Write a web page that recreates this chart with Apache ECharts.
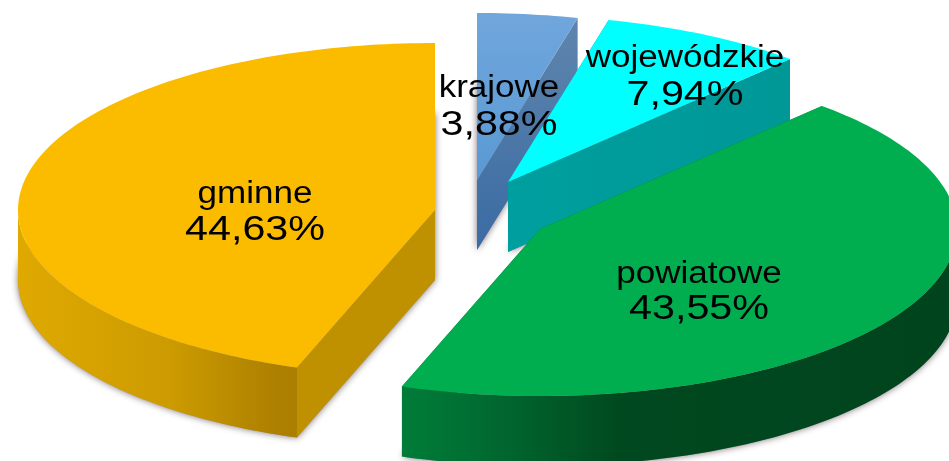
<!DOCTYPE html>
<html>
<head>
<meta charset="utf-8">
<script src="https://cdn.jsdelivr.net/npm/echarts@6/dist/echarts.min.js"></script>
<style>
html, body { margin: 0; padding: 0; background: #fff; }
#chart { width: 949px; height: 461px; }
</style>
</head>
<body>
<div id="chart"></div>
<script>
var categories = ['krajowe', 'wojewódzkie', 'powiatowe', 'gminne'];
var shares = [3.88, 7.94, 43.55, 44.63];

// pie look, all in pixels
var radiusX = 417, radiusY = 167, depth = 70;
var apexes = [[477, 180], [508, 182], [540, 229], [435, 210]];
var labelAt = [[499, 88, 125], [685, 58, 95], [699, 274, 309], [255, 194, 230]];

function grad(stops, vertical) {
	return {
		type: 'linear', x: 0, y: 0, x2: vertical ? 0 : 1, y2: vertical ? 1 : 0,
		colorStops: stops.map(function(s){ return { offset: s[0], color: s[1] }; })
	};
}

var topFill = [
	grad([[0, '#70a6dc'], [1, '#5999d4']], true),
	'#00ffff',
	'#00ae4f',
	'#fbbc00'
];
var edgeFill = [
	grad([[0, '#5f85ad'], [1, '#3a6ba3']], true),
	grad([[0, '#009f9f'], [1, '#009797']], false),
	'#006f33',
	'#bf9000'
];
var rimFill = [
	'#3a6ba3',
	'#009797',
	grad([[0, '#007c38'], [0.12, '#006f33'], [0.27, '#005a28'], [0.4, '#00481f'], [1, '#00441e']], false),
	grad([[0, '#dfa900'], [0.55, '#cc9b00'], [0.92, '#ad8000'], [1, '#ab7e00']], false)
];

function sumBefore(index) {
	var total = 0;
	for (var i = 0; i < index; i++) total += shares[i];
	return total;
}

function pointAt(apex, angle, shift) {
	return [apex[0] + radiusX * Math.sin(angle), apex[1] - radiusY * Math.cos(angle) + shift];
}

function arcPoints(apex, from, to, shift) {
	var pts = [];
	var steps = Math.max(2, Math.ceil((to - from) / 0.02));
	for (var i = 0; i <= steps; i++) {
		pts.push(pointAt(apex, from + (to - from) * i / steps, shift));
	}
	return pts;
}

function polygon(points, fill, extra) {
	var style = { fill: fill };
	for (var key in (extra || {})) style[key] = extra[key];
	return { type: 'polygon', shape: { points: points }, style: style };
}

function renderSlice(params, api) {
	var i = params.dataIndex;
	var apex = apexes[i];
	var from = sumBefore(i) / 100 * 2 * Math.PI;
	var to = from + api.value(0) / 100 * 2 * Math.PI;
	var kids = [];

	// bottom face, it only throws the soft shadow
	kids.push(polygon([[apex[0], apex[1] + depth]].concat(arcPoints(apex, from, to, depth)), '#999', {
		shadowBlur: 7, shadowColor: 'rgba(80,60,70,0.75)'
	}));

	// side walls along both cuts
	[from, to].forEach(function(a){
		var p = pointAt(apex, a, 0);
		kids.push(polygon([apex, p, [p[0], p[1] + depth], [apex[0], apex[1] + depth]], edgeFill[i]));
	});

	// rim, only the front half of the ellipse shows
	var a0 = Math.max(from, Math.PI / 2), a1 = Math.min(to, Math.PI * 3 / 2);
	if (a1 > a0) {
		var upper = arcPoints(apex, a0, a1, 0);
		var lower = arcPoints(apex, a0, a1, depth).reverse();
		kids.push(polygon(upper.concat(lower), rimFill[i]));
	}

	kids.push(polygon([apex].concat(arcPoints(apex, from, to, 0)), topFill[i]));
	return { type: 'group', children: kids };
}

function labelText(x, y, text, size, stretch) {
	return {
		type: 'text', x: x, y: y, scaleX: stretch, silent: true,
		style: {
			text: text, fill: '#000', align: 'center', verticalAlign: 'middle',
			font: size + 'px "Liberation Sans", Arial, sans-serif'
		}
	};
}

function renderLabel(params, api) {
	var i = params.dataIndex;
	var pos = labelAt[i];
	var percent = api.value(0).toFixed(2).replace('.', ',') + '%';
	return {
		type: 'group',
		children: [
			labelText(pos[0], pos[1], categories[i], 31, 1.13),
			labelText(pos[0], pos[2], percent, 35, 1.18)
		]
	};
}

var chart = echarts.init(document.getElementById('chart'), null, { renderer: 'canvas' });
chart.setOption({
	animation: false,
	backgroundColor: '#ffffff',
	series: [
		{ type: 'custom', coordinateSystem: 'none', z: 2, silent: true, renderItem: renderSlice, data: shares.map(function(v){ return [v]; }) },
		{ type: 'custom', coordinateSystem: 'none', z: 3, silent: true, renderItem: renderLabel, data: shares.map(function(v){ return [v]; }) }
	]
});
</script>
</body>
</html>
